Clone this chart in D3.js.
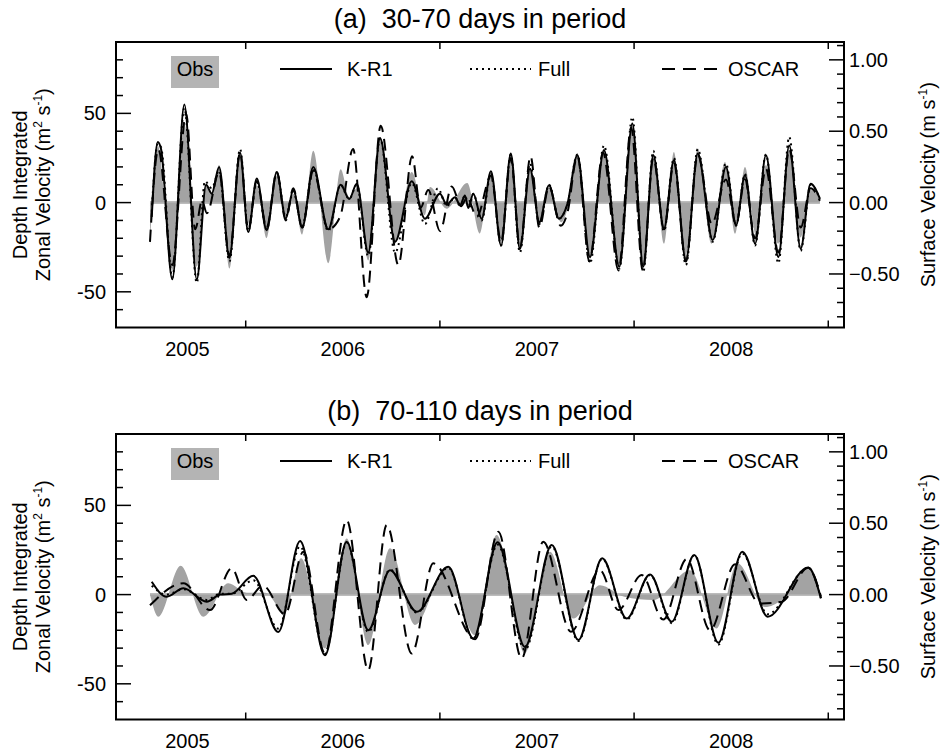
<!DOCTYPE html>
<html>
<head>
<meta charset="utf-8">
<script src="https://cdn.jsdelivr.net/npm/d3@7"></script>
<style>
body { margin: 0; background: #fff; }
text { font-family: "Liberation Sans", Arial, Helvetica, sans-serif; fill: #000; }
</style>
</head>
<body>
<div id="chart"></div>
<script>
// [decimal year, velocity (m^2 s^-1)] read at turning points of each curve

// panel (a) 30-70 days
let aObs = [[2005.507,-25],[2005.547,32],[2005.622,-38],[2005.684,44],[2005.748,-36],[2005.796,9.7],[2005.825,5],[2005.863,21],
  [2005.916,-37],[2005.971,28],[2006.018,-12],[2006.057,9.7],[2006.108,-20],[2006.160,15],[2006.206,-9],[2006.245,5],
  [2006.291,-18],[2006.348,29],[2006.425,-34],[2006.489,18.7],[2006.533,3],[2006.572,8],[2006.631,-32.4],[2006.692,36.8],
  [2006.769,-23],[2006.855,17.2],[2006.923,-7],[2006.949,8.7],[2007.035,-3.4],[2007.141,11],[2007.206,-17.4],[2007.263,17],
  [2007.315,-21],[2007.365,27.5],[2007.412,-27],[2007.464,19],[2007.512,-11],[2007.562,8.6],[2007.625,-11],[2007.656,-4],
  [2007.708,27.5],[2007.773,-31.5],[2007.845,30.3],[2007.924,-35.5],[2007.991,43.3],[2008.047,-35.5],[2008.099,27.5],
  [2008.154,-23],[2008.205,28.4],[2008.262,-32.4],[2008.328,30.3],[2008.400,-23],[2008.468,22.8],[2008.520,-17.4],
  [2008.571,20],[2008.628,-18.3],[2008.679,21],[2008.743,-23],[2008.799,29.3],[2008.858,-19.5],[2008.909,7],[2008.957,3]];

let aKR1 = [[2005.516,-8],[2005.547,34],[2005.564,30],[2005.622,-43],[2005.684,55],[2005.748,-43],[2005.796,10],[2005.825,5],
  [2005.863,20],[2005.916,-31],[2005.971,28],[2006.013,-16.5],[2006.057,13.5],[2006.108,-15.5],[2006.160,17],[2006.206,-9],
  [2006.245,7],[2006.291,-14],[2006.348,20],[2006.425,-15],[2006.489,10],[2006.533,2],[2006.572,10.5],[2006.631,-28],
  [2006.692,36],[2006.769,-22],[2006.855,12],[2006.923,-9],[2007.000,5],[2007.035,-1],[2007.078,3],[2007.104,-1.5],
  [2007.129,4],[2007.146,-3],[2007.172,5],[2007.215,-9],[2007.263,17.5],[2007.315,-24],[2007.365,27.5],[2007.412,-26],
  [2007.464,19],[2007.512,-11],[2007.562,9.7],[2007.613,-9],[2007.656,-1],[2007.708,26.5],[2007.773,-30.5],[2007.845,29.3],
  [2007.924,-36],[2007.991,44.3],[2008.047,-36],[2008.099,26.5],[2008.154,-14.6],[2008.205,23.7],[2008.267,-32.4],
  [2008.328,27.5],[2008.405,-21],[2008.473,20],[2008.525,-12.7],[2008.571,15.3],[2008.623,-23],[2008.679,26.5],
  [2008.743,-30.5],[2008.799,32],[2008.858,-25.8],[2008.909,10.6],[2008.957,2.2]];

let aFull = [[2005.516,-5],[2005.547,33],[2005.564,31],[2005.622,-42],[2005.684,53],[2005.748,-45],[2005.790,12],[2005.825,8],
  [2005.863,18],[2005.916,-33],[2005.971,30],[2006.013,-16],[2006.057,12],[2006.108,-15],[2006.160,17],[2006.206,-8],
  [2006.245,6],[2006.291,-13],[2006.348,19],[2006.425,-16],[2006.489,10],[2006.533,2],[2006.572,10],[2006.631,-30],
  [2006.692,36],[2006.769,-28],[2006.855,11],[2006.923,-12],[2006.990,8],[2007.035,-2],[2007.078,3],[2007.104,-2],
  [2007.129,4],[2007.150,-3],[2007.172,5],[2007.215,-10],[2007.263,16],[2007.315,-24],[2007.365,27],[2007.412,-28],
  [2007.464,22],[2007.512,-12],[2007.562,10],[2007.613,-9],[2007.656,-1],[2007.708,27],[2007.773,-34],[2007.845,32],
  [2007.924,-37],[2007.991,48],[2008.047,-39],[2008.099,29],[2008.154,-16],[2008.205,25],[2008.267,-35],[2008.328,30],
  [2008.405,-22],[2008.473,22],[2008.525,-13],[2008.571,16],[2008.623,-24],[2008.679,27],[2008.743,-34],[2008.799,36.8],
  [2008.858,-27],[2008.909,10],[2008.957,2]];

let aOSCAR = [[2005.507,-22],[2005.550,30],[2005.622,-35],[2005.693,50],[2005.740,-15],[2005.775,1],[2005.800,-6],
  [2005.863,17],[2005.916,-30],[2005.971,28],[2006.013,-15],[2006.057,12],[2006.108,-14],[2006.160,17],[2006.206,-10],
  [2006.245,8],[2006.291,-14],[2006.348,18],[2006.425,-15],[2006.486,-8],[2006.553,30],[2006.623,-53],[2006.695,43],
  [2006.786,-35],[2006.857,26],[2006.900,-3],[2006.940,7],[2007.001,-16],[2007.061,9],[2007.110,-2],[2007.140,3],
  [2007.190,-8],[2007.263,15],[2007.315,-22],[2007.365,25],[2007.412,-25],[2007.467,26],[2007.512,-14],[2007.562,9],
  [2007.622,-13],[2007.656,-6],[2007.708,26],[2007.770,-33],[2007.840,28],[2007.920,-38],[2007.985,42],[2008.045,-38],
  [2008.099,25],[2008.154,-15],[2008.205,22],[2008.267,-33],[2008.328,27],[2008.400,-12],[2008.473,13],[2008.525,-12],
  [2008.571,13],[2008.623,-20],[2008.679,19],[2008.743,-28],[2008.799,30],[2008.858,-14],[2008.909,8],[2008.957,1]];

// panel (b) 70-110 days
let bObs = [[2005.507,0],[2005.550,-12.4],[2005.665,16.2],[2005.782,-12.4],[2005.910,6.3],[2006.005,1],[2006.100,1],
  [2006.202,-10.5],[2006.285,20.3],[2006.408,-30.2],[2006.520,31.5],[2006.631,-28.3],[2006.743,26],[2006.872,-17],
  [2007.035,15.6],[2007.181,-22.7],[2007.292,33.4],[2007.438,-33],[2007.567,24],[2007.687,-13.4],[2007.824,5.3],
  [2007.950,-1.2],[2008.100,-3],[2008.288,13.7],[2008.425,-19],[2008.532,17.5],[2008.674,-7],[2008.760,-3],
  [2008.897,14.7],[2008.962,0]];

let bKR1 = [[2005.516,7.2],[2005.593,-1.2],[2005.679,3.5],[2005.799,-4],[2005.868,0],[2005.928,0.5],[2006.039,10.5],
  [2006.168,-21],[2006.280,30],[2006.408,-34],[2006.520,29.6],[2006.631,-20],[2006.743,13.7],[2006.881,-9.6],
  [2007.043,15.6],[2007.172,-24.6],[2007.297,29.3],[2007.438,-29.3],[2007.576,27.8],[2007.713,-25.5],[2007.836,20.3],
  [2007.962,-13.4],[2008.082,11.3],[2008.194,-15.2],[2008.310,22.2],[2008.434,-27],[2008.557,24],[2008.688,-12.4],
  [2008.897,15.2],[2008.962,-2]];

let bFull = [[2005.516,5],[2005.593,0],[2005.679,3],[2005.799,-3],[2005.868,0.5],[2005.928,0.5],[2006.039,8],
  [2006.168,-19],[2006.280,27],[2006.408,-33],[2006.520,29],[2006.631,-21],[2006.743,14],[2006.881,-10],
  [2007.043,15],[2007.172,-25],[2007.297,28],[2007.438,-31],[2007.576,27],[2007.713,-26],[2007.836,20],
  [2007.962,-14],[2008.082,11],[2008.194,-16],[2008.310,22],[2008.434,-28],[2008.557,23],[2008.688,-11],
  [2008.897,15],[2008.962,-2]];

let bOSCAR = [[2005.507,-6],[2005.679,6.3],[2005.816,-8.7],[2005.928,14.7],[2006.005,-3],[2006.089,5],[2006.202,-11],
  [2006.297,24],[2006.408,-33],[2006.520,41.8],[2006.631,-42.3],[2006.726,39],[2006.855,-33],[2006.966,17.5],
  [2007.181,-25],[2007.301,35.2],[2007.421,-35.8],[2007.532,29.6],[2007.675,-20.8],[2007.824,13.7],[2007.919,-8.7],
  [2008.039,11],[2008.150,-14],[2008.271,20],[2008.391,-20],[2008.520,17],[2008.648,-5],[2008.760,-4],
  [2008.897,15],[2008.962,-1]];

let panelTitles = ["(a)  30-70 days in period", "(b)  70-110 days in period"];
let legendNames = ["Obs", "K-R1", "Full", "OSCAR"];
let yearTicks = [2006, 2007, 2008, 2009];
let yearLabels = ["2005", "2006", "2007", "2008"];
let yearLabelAt = [2005.70, 2006.5, 2007.5, 2008.5];
let leftLabels = [-50, 0, 50];
let rightLabels = [-0.5, 0, 0.5, 1.0];

let width = 943;
let height = 750;
let plotLeft = 116;
let plotRight = 844;
let plotH = 285.5;
let panelTops = [42, 434];
let fontSize = 20;

let container = d3.select("#chart").append("svg")
  .attr("width", width)
  .attr("height", height);

let x = d3.scaleLinear().domain([2005.332, 2009.081]).range([plotLeft, plotRight]);

function addSup(sel, parts) {
  // parts: [text, isSuperscript]
  parts.forEach(p => {
    let ts = sel.append("tspan").text(p[0]);
    if (p[1]) ts.attr("dy", -8).attr("font-size", 12);
    else if (p[2]) ts.attr("dy", 8);
  });
}

function drawPanel(idx, obs, kr1, full, oscar) {
  let top = panelTops[idx];
  let bottom = top + plotH;
  let y = d3.scaleLinear().domain([-70, 90]).range([bottom, top]);
  let yR = d3.scaleLinear().domain([-0.875, 1.125]).range([bottom, top]);
  let g = container.append("g");

  // zero band under the obs fill
  g.append("line")
    .attr("x1", x(obs[0][0])).attr("x2", x(obs[obs.length - 1][0]))
    .attr("y1", y(0)).attr("y2", y(0))
    .attr("stroke", "#bcbcbc").attr("stroke-width", 3);

  let area = d3.area()
    .x(d => x(d[0]))
    .y0(y(0))
    .y1(d => y(d[1]))
    .curve(d3.curveMonotoneX);

  g.append("path").datum(obs)
    .attr("d", area)
    .attr("fill", "#a3a3a3");

  let line = d3.line()
    .x(d => x(d[0]))
    .y(d => y(d[1]))
    .curve(d3.curveMonotoneX);

  let styles = [
    {data: oscar, dash: "12,7"},
    {data: full, dash: "2,4"},
    {data: kr1, dash: null}
  ];
  styles.forEach(s => {
    g.append("path").datum(s.data)
      .attr("d", line)
      .attr("fill", "none")
      .attr("stroke", "#000")
      .attr("stroke-width", 2)
      .attr("stroke-dasharray", s.dash);
  });

  // left ticks
  d3.range(-60, 90, 10).forEach(v => {
    let len = v % 50 === 0 ? 15 : 7;
    g.append("line")
      .attr("x1", plotLeft).attr("x2", plotLeft + len)
      .attr("y1", y(v)).attr("y2", y(v))
      .attr("stroke", "#000").attr("stroke-width", 1.5);
  });
  leftLabels.forEach(v => {
    g.append("text")
      .attr("x", plotLeft - 10).attr("y", y(v))
      .attr("dy", "0.35em")
      .attr("text-anchor", "end")
      .attr("font-size", fontSize)
      .text(v);
  });

  // right ticks
  d3.range(-8, 12).forEach(k => {
    let len = k % 5 === 0 ? 15 : 7;
    g.append("line")
      .attr("x1", plotRight - len).attr("x2", plotRight)
      .attr("y1", yR(k / 10)).attr("y2", yR(k / 10))
      .attr("stroke", "#000").attr("stroke-width", 1.5);
  });
  rightLabels.forEach(v => {
    g.append("text")
      .attr("x", plotRight + 5).attr("y", yR(v))
      .attr("dy", "0.35em")
      .attr("font-size", fontSize)
      .text(d3.format(".2f")(v));
  });

  // year ticks top and bottom
  yearTicks.forEach(t => {
    g.append("line")
      .attr("x1", x(t)).attr("x2", x(t))
      .attr("y1", top).attr("y2", top + 7)
      .attr("stroke", "#000").attr("stroke-width", 1.5);
    g.append("line")
      .attr("x1", x(t)).attr("x2", x(t))
      .attr("y1", bottom).attr("y2", bottom - 7)
      .attr("stroke", "#000").attr("stroke-width", 1.5);
  });
  yearLabels.forEach((lab, i) => {
    g.append("text")
      .attr("x", x(yearLabelAt[i])).attr("y", bottom + 28)
      .attr("text-anchor", "middle")
      .attr("font-size", fontSize)
      .text(lab);
  });

  // frame
  g.append("rect")
    .attr("x", plotLeft).attr("y", top)
    .attr("width", plotRight - plotLeft).attr("height", plotH)
    .attr("fill", "none").attr("stroke", "#000").attr("stroke-width", 2);

  // title
  g.append("text")
    .attr("x", (plotLeft + plotRight) / 2).attr("y", top - 14)
    .attr("text-anchor", "middle")
    .attr("font-size", 27)
    .style("white-space", "pre")
    .text(panelTitles[idx]);

  // axis titles
  let cy = (top + bottom) / 2;
  g.append("text")
    .attr("transform", `translate(20,${cy}) rotate(-90)`)
    .attr("dy", "0.35em")
    .attr("text-anchor", "middle")
    .attr("font-size", fontSize)
    .text("Depth Integrated");

  let zt = g.append("text")
    .attr("transform", `translate(43,${cy}) rotate(-90)`)
    .attr("dy", "0.35em")
    .attr("text-anchor", "middle")
    .attr("font-size", fontSize);
  addSup(zt, [["Zonal Velocity (m"], ["2", true], [" s", false, true], ["-1", true], [")", false, true]]);

  let st = g.append("text")
    .attr("transform", `translate(928,${cy}) rotate(-90)`)
    .attr("dy", "0.35em")
    .attr("text-anchor", "middle")
    .attr("font-size", fontSize);
  addSup(st, [["Surface Velocity (m s"], ["-1", true], [")", false, true]]);

  // legend
  let ly = top + 27;
  g.append("rect")
    .attr("x", 171).attr("y", ly - 13)
    .attr("width", 48).attr("height", 32)
    .attr("fill", "#b4b4b4");
  g.append("text")
    .attr("x", 195).attr("y", ly + 7)
    .attr("text-anchor", "middle")
    .attr("font-size", fontSize)
    .text(legendNames[0]);

  let legendLines = [
    {x1: 280, x2: 332, tx: 347, dash: null},
    {x1: 470, x2: 531, tx: 538, dash: "2,4"},
    {x1: 662, x2: 717, tx: 728, dash: "13,8"}
  ];
  legendLines.forEach((l, i) => {
    g.append("line")
      .attr("x1", l.x1).attr("x2", l.x2)
      .attr("y1", ly).attr("y2", ly)
      .attr("stroke", "#000").attr("stroke-width", 2)
      .attr("stroke-dasharray", l.dash);
    g.append("text")
      .attr("x", l.tx).attr("y", ly + 7)
      .attr("font-size", fontSize)
      .text(legendNames[i + 1]);
  });
}

drawPanel(0, aObs, aKR1, aFull, aOSCAR);
drawPanel(1, bObs, bKR1, bFull, bOSCAR);
</script>
</body>
</html>
